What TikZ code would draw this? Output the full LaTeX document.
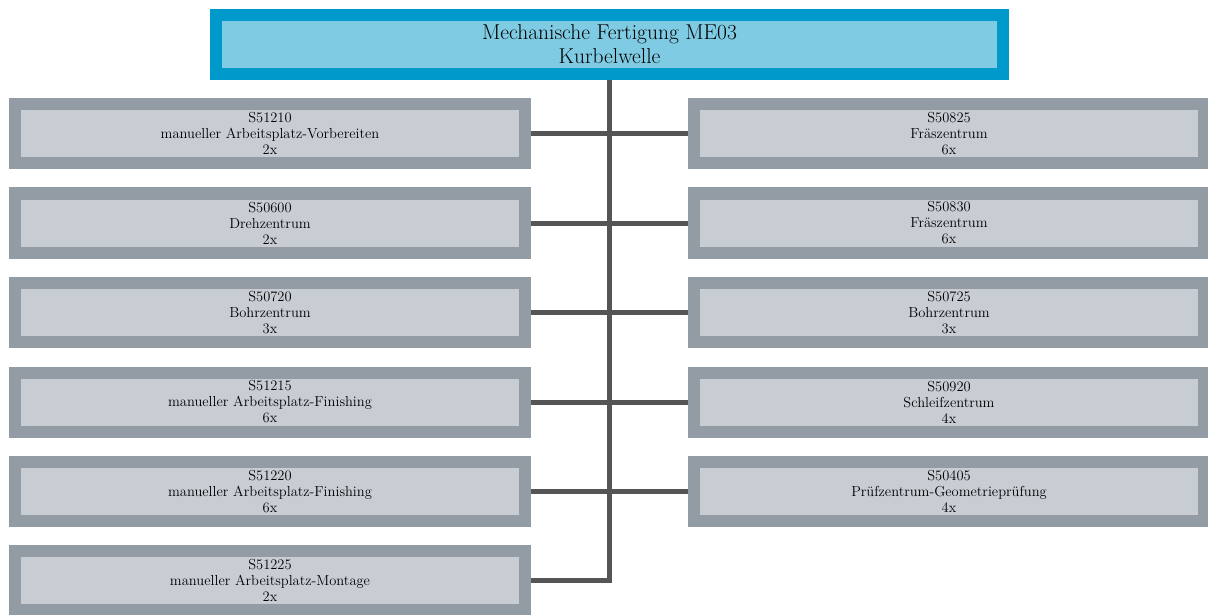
\documentclass[tikz,border=0pt]{standalone}
\usepackage{fontspec}
\definecolor{topborder}{HTML}{0099CC}
\definecolor{topfill}{HTML}{80CBE4}
\definecolor{boxborder}{HTML}{939BA4}
\definecolor{boxfill}{HTML}{C8CDD4}
\definecolor{conncol}{HTML}{555555}
\tikzset{
  topbox/.style={draw=topborder, fill=topfill, line width=12pt, inner sep=0pt,
    minimum width=787pt, minimum height=59pt, align=center,
    font=\fontsize{21.5}{24}\selectfont},
  stationbox/.style={draw=boxborder, fill=boxfill, line width=12pt, inner sep=0pt,
    minimum width=510pt, minimum height=59pt, align=center,
    font=\fontsize{14.5}{16}\selectfont},
  conn/.style={draw=conncol, line width=5pt}
}
\begin{document}
\begin{tikzpicture}[x=1pt,y=-1pt]
\useasboundingbox (0,0) rectangle (1208,615);
\node[topbox] (top) at (609.5,44.5) {Mechanische Fertigung ME03\\Kurbelwelle};
\node[stationbox] (l1) at (270,133.5) {S51210\\manueller Arbeitsplatz-Vorbereiten\\2x};
\node[stationbox] (l2) at (270,223) {S50600\\Drehzentrum\\2x};
\node[stationbox] (l3) at (270,312.5) {S50720\\Bohrzentrum\\3x};
\node[stationbox] (l4) at (270,402) {S51215\\manueller Arbeitsplatz-Finishing\\6x};
\node[stationbox] (l5) at (270,491.5) {S51220\\manueller Arbeitsplatz-Finishing\\6x};
\node[stationbox] (l6) at (270,580.5) {S51225\\manueller Arbeitsplatz-Montage\\2x};
\node[stationbox] (r1) at (949,133.5) {S50825\\Fräszentrum\\6x};
\node[stationbox] (r2) at (949,223) {S50830\\Fräszentrum\\6x};
\node[stationbox] (r3) at (949,312.5) {S50725\\Bohrzentrum\\3x};
\node[stationbox] (r4) at (949,402) {S50920\\Schleifzentrum\\4x};
\node[stationbox] (r5) at (949,491.5) {S50405\\Prüfzentrum-Geometrieprüfung\\4x};
\coordinate (trunkend) at (top.south |- l6.east);
\draw[conn] (top.south) -- (trunkend) -- (l6.east);
\foreach \n in {l1,l2,l3,l4,l5,r1,r2,r3,r4,r5}{
  \draw[conn] (\n) -- (top.south |- \n);
}
\end{tikzpicture}
\end{document}
